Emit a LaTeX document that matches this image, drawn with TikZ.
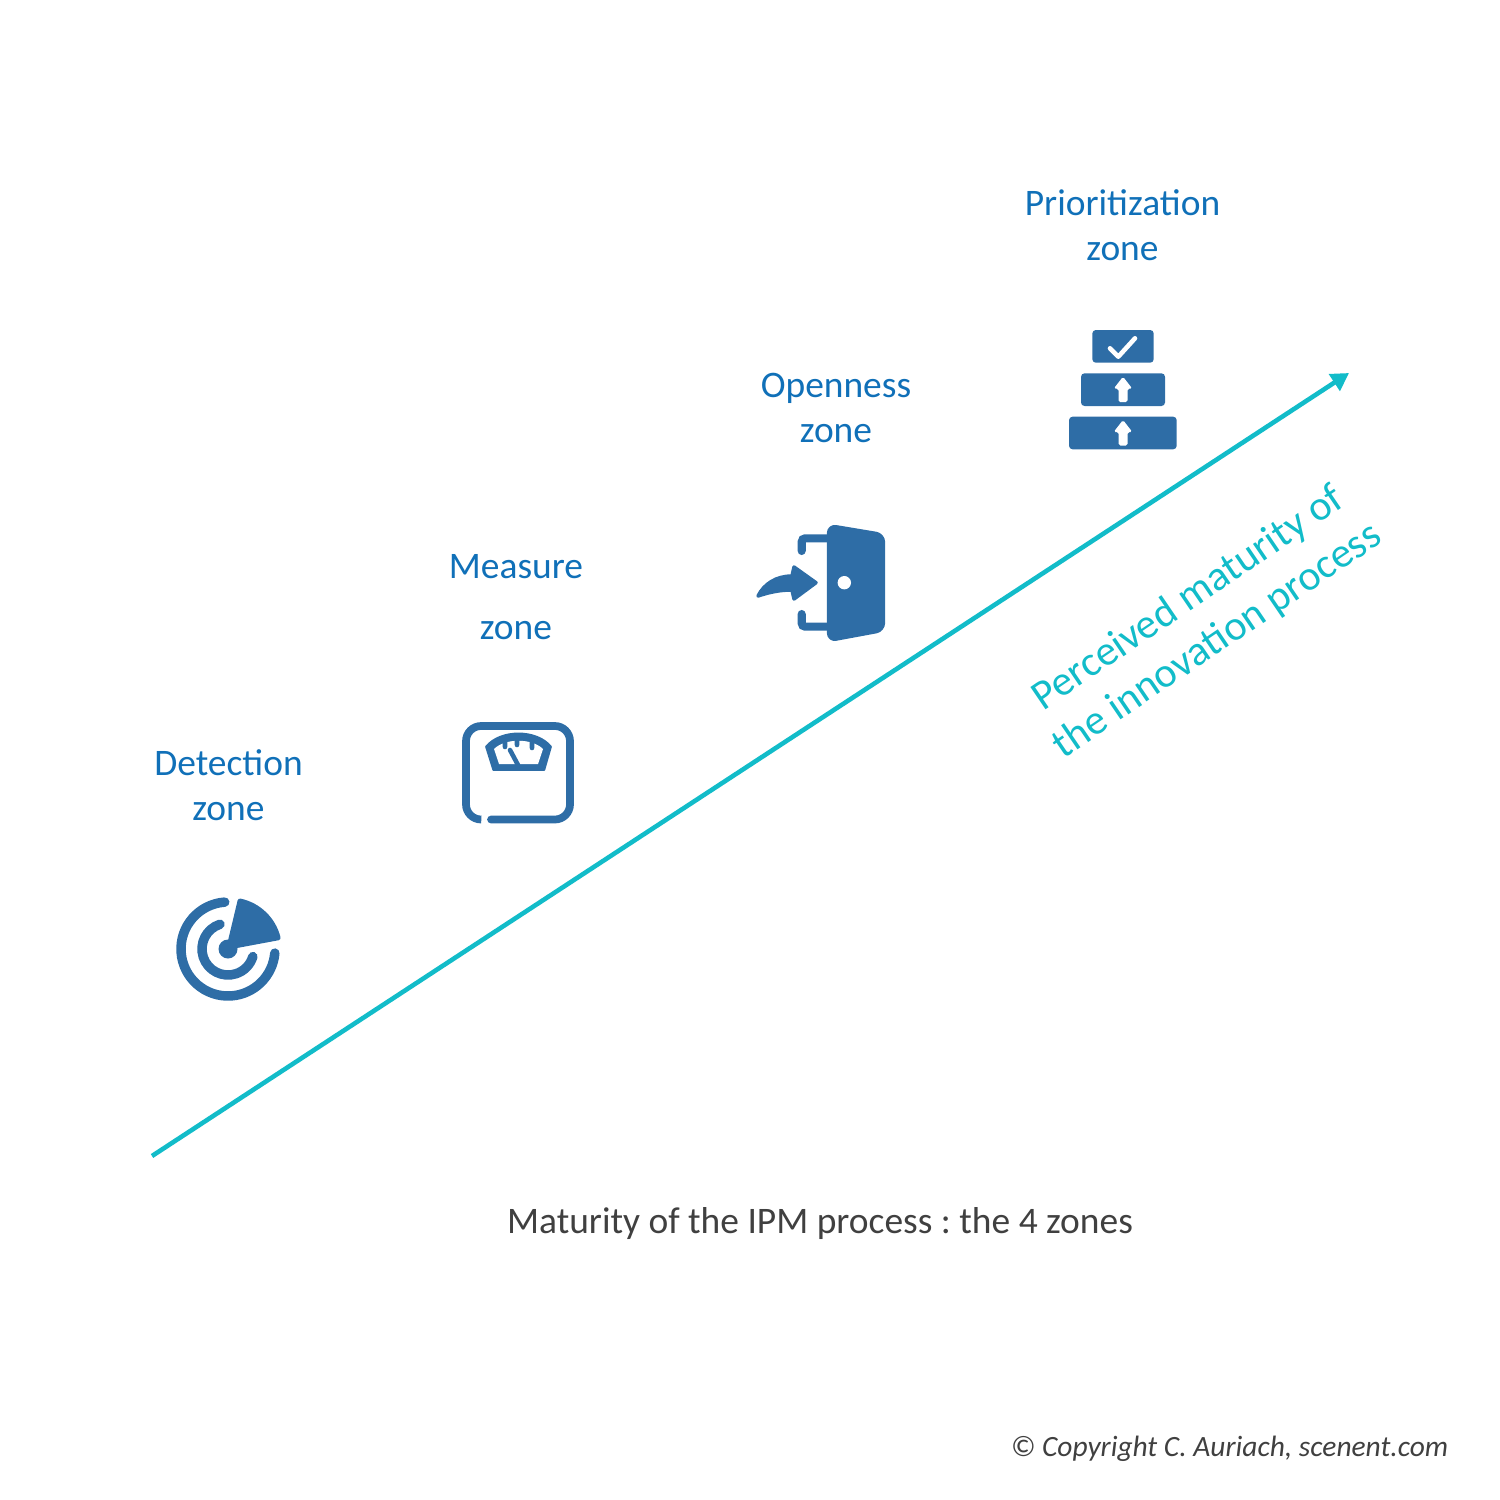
\documentclass[tikz,border=0pt]{standalone}
\usepackage{fontspec}
\setmainfont{Carlito}
\usetikzlibrary{arrows.meta}
\definecolor{zoneblue}{HTML}{1070B8}
\definecolor{iconblue}{HTML}{2E6DA6}
\definecolor{axisteal}{HTML}{12BCC9}
\definecolor{captiongrey}{HTML}{404040}

\begin{document}
\frenchspacing
\begin{tikzpicture}[
    x=0.01cm, y=-0.01cm,
    zone/.style={align=center, text=zoneblue, inner sep=0pt, font=\fontsize{10.65}{12.8}\selectfont},
    axis/.style={-{Triangle[length=5pt, width=5.5pt]}, axisteal, line width=1.3pt},
    ring/.style={iconblue, line width=2.7pt, line cap=round},
    frameline/.style={iconblue, line width=2.3pt, line cap=round, rounded corners=1pt},
    solid icon/.style={fill=iconblue, draw=iconblue, line width=0.5pt, line join=round},
    block/.style={fill=iconblue, rounded corners=1pt}
  ]
  \useasboundingbox (0,0) rectangle (1500,1500);

  % Axis
  \coordinate (start) at (152,1156);
  \coordinate (tip) at (1349,373);
  \draw[axis] (start) -- (tip);
  \node[rotate=34.2, align=center, text=axisteal, inner sep=0pt, font=\fontsize{11.95}{14.5}\selectfont] (axislabel) at (1203,620) {Perceived maturity of\\the innovation process};

  % Zone labels
  \node[zone] (detection) at (228.5,785.5) {Detection\\zone};
  \node[zone] (measure) at (516,597) {Measure\\[4.6pt]zone};
  \node[zone] (openness) at (836,407.5) {Openness\\zone};
  \node[zone] (prioritization) at (1122.5,225.5) {Prioritization\\zone};

  % Radar icon, the y axis points down so angles are negative
  \draw[ring] (228,949) ++(-94:47) arc[start angle=-94, end angle=-355, radius=47];
  \draw[ring] (228,949) ++(-108:26) arc[start angle=-108, end angle=-343, radius=26];
  \fill[iconblue] (228,949) circle[radius=9.5];
  \draw[solid icon, line width=1.4pt] (229,947) -- (240,901) arc[start angle=-78, end angle=-14, radius=50] -- cycle;

  % Scale icon
  \draw[iconblue, line width=2.2pt, line cap=round, rounded corners=4.3pt] (491,819.5) -- (570,819.5) -- (570,726) -- (466,726) -- (466,819.5) -- (481,819.5);
  \draw[solid icon] (486,746.7) .. controls (500,729) and (537,729) .. (551,746.7) -- (544.3,770) -- (493.3,770) -- cycle;
  \fill[white] (494,749) .. controls (505,738) and (532,738) .. (543,749) -- (538,764) -- (499,764) -- cycle;
  \draw[iconblue, line width=1.3pt, line cap=round] (505,742) -- (505,747) (517,738) -- (517,745) (532,742) -- (532,748) (510,750) -- (518,765);

  % Door icon
  \draw[solid icon, line width=1.2pt, rounded corners=2pt] (829,526) -- (883,535) -- (883,630) -- (829,640) -- cycle;
  \fill[white] (844.3,582.7) circle[radius=6.7];
  \draw[frameline] (829,538.3) -- (801.7,538.3) -- (801.7,551);
  \draw[frameline] (801.7,614) -- (801.7,626.7) -- (829,626.7);
  \draw[solid icon, line width=1pt] (816,582.7) -- (794,567) -- (792,576) .. controls (776,576) and (764,584) .. (758,596) .. controls (770,592) and (780,590) .. (792,590) -- (794,599) -- cycle;

  % Stack icon
  \fill[block] (1092.3,330) rectangle (1153.7,362.7);
  \fill[block] (1081,373.3) rectangle (1165,406);
  \fill[block] (1069,416.7) rectangle (1176.7,449.3);
  \draw[white, line width=1.3pt, line cap=round, line join=round] (1110,348.3) -- (1118.3,356.7) -- (1135,338.3);
  \foreach \arrowtop in {376.7,420} {
    \fill[white, rounded corners=0.5pt] (1123,\arrowtop) -- ++(9.3,12) -- ++(-4.8,0) -- ++(0,13.5) -- ++(-9,0) -- ++(0,-13.5) -- ++(-4.8,0) -- cycle;
  }

  % Captions
  \node[text=captiongrey, inner sep=0pt, font=\fontsize{10.65}{12.8}\selectfont] (caption) at (820,1224) {Maturity of the IPM process : the 4 zones};
  \node[text=captiongrey, inner sep=0pt, anchor=east, font=\fontsize{8.37}{10}\itshape] (copyright) at (1449,1449) {© Copyright C. Auriach, scenent.com};
\end{tikzpicture}
\end{document}
